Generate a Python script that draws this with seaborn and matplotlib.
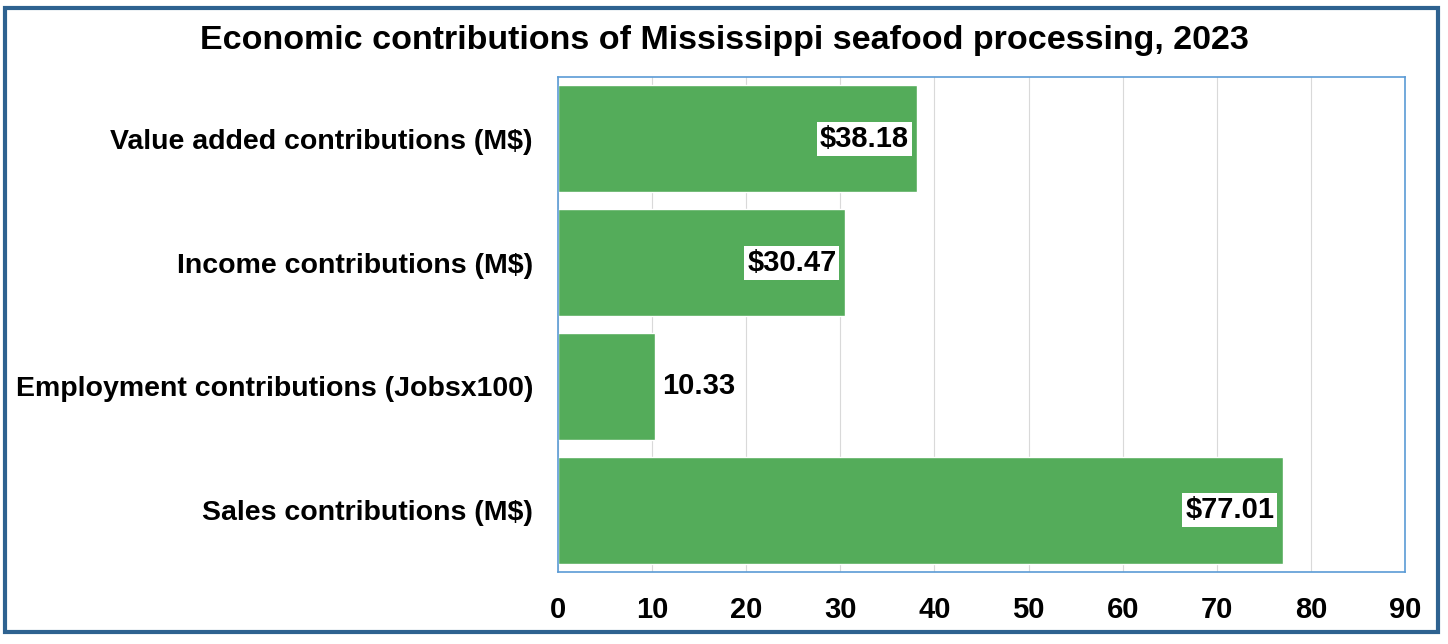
import matplotlib
matplotlib.use("Agg")
import matplotlib.pyplot as plt
import seaborn as sns
import pandas as pd
from matplotlib.patches import Rectangle

# 資料
categories = ["Value added contributions (M$)", "Income contributions (M$)",
              "Employment contributions (Jobsx100)", "Sales contributions (M$)"]
values = [38.18, 30.47, 10.33, 77.01]
labels = ["$38.18", "$30.47", "10.33", "$77.01"]
x_ticks = [0, 10, 20, 30, 40, 50, 60, 70, 80, 90]

df = pd.DataFrame({"Category": categories, "Value": values})

sns.set_style("white")
plt.rcParams['font.family'] = ['Liberation Sans', 'DejaVu Sans']
plt.rcParams['text.color'] = 'black'
plt.rcParams['xtick.color'] = 'black'
plt.rcParams['ytick.color'] = 'black'

fig = plt.figure(figsize=(14.48, 6.44), dpi=100)
ax = fig.add_axes([558 / 1448, 1 - 572 / 644, (1405 - 558) / 1448, (572 - 77) / 644])

sns.barplot(data=df, x="Value", y="Category", orient="h", color="#54AC5A",
            saturation=1, width=0.865, ax=ax)

ax.set_xlim(0, 90)
ax.set_xticks(x_ticks)
ax.set_xticklabels([str(t) for t in x_ticks], fontsize=21, fontweight="bold")
ax.set_yticks(range(len(categories)))
ax.set_yticklabels(categories, fontsize=20.5, fontweight="bold")
ax.tick_params(axis="y", length=0, pad=18)
ax.tick_params(axis="x", length=0, pad=17)
ax.set_xlabel("")
ax.set_ylabel("")
ax.grid(axis="x", color="#D9D9D9", linewidth=0.8)
ax.set_axisbelow(True)
for sp in ax.spines.values():
    sp.set_visible(True)
    sp.set_color("#5B9BD5")
    sp.set_linewidth(1.2)

# 數值標籤
for i, (v, lab) in enumerate(zip(values, labels)):
    if v > 20:
        ax.annotate(lab, (v, i), xytext=(-6, 0), textcoords="offset points",
                    ha="right", va="center", fontsize=21, fontweight="bold",
                    bbox=dict(facecolor="white", edgecolor="none", pad=2))
    else:
        ax.annotate(lab, (v, i), xytext=(5, 0), textcoords="offset points",
                    ha="left", va="center", fontsize=21, fontweight="bold")

fig.text(0.5, 1 - 41 / 644, "Economic contributions of Mississippi seafood processing, 2023",
         ha="center", va="center", fontsize=24.5, fontweight="bold")

# 外框
fig.patches.append(Rectangle((5 / 1448, 1 - 632 / 644), 1433 / 1448, 624 / 644,
                             transform=fig.transFigure, fill=False,
                             edgecolor="#2E6290", linewidth=3))

fig.savefig("out.png", dpi=100, facecolor="white")
